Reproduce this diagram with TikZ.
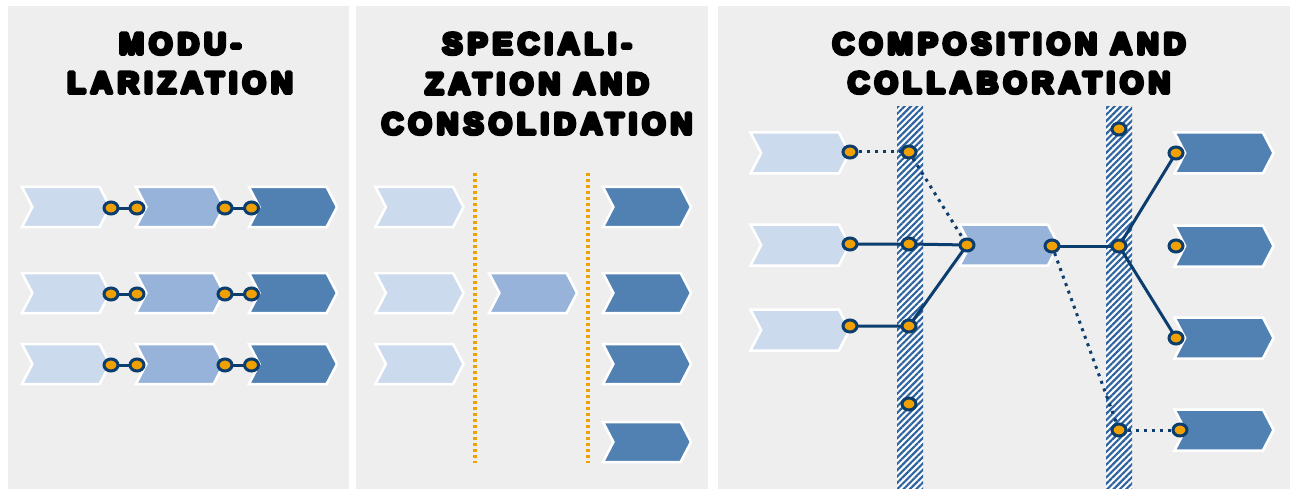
\documentclass[tikz,border=0pt]{standalone}
\usepackage{fontspec}
\usetikzlibrary{shapes.symbols,shapes.geometric,patterns.meta}
\newfontfamily\titlefont[LetterSpace=17,FakeBold=13]{Liberation Sans Bold}
\definecolor{bgpanel}{HTML}{EEEEEE}
\definecolor{chA}{HTML}{CBDAEC}
\definecolor{chB}{HTML}{97B3D9}
\definecolor{chC}{HTML}{5181B3}
\definecolor{orng}{HTML}{F0A000}
\definecolor{navy}{HTML}{0B3D6E}
\definecolor{stripe}{HTML}{2F64A0}
\pgfdeclarelayer{back}
\pgfdeclarelayer{conn}
\pgfsetlayers{back,conn,main}
\tikzset{
  chev/.style={signal, signal to=east, signal from=west, signal pointer angle=125,
    minimum height=40pt, minimum width=88pt, inner sep=0pt, draw=white, line width=2.5pt},
  chevwide/.style={chev, minimum width=99pt, minimum height=41pt},
  port/.style={ellipse, fill=orng, draw=navy, line width=3pt,
    minimum width=14pt, minimum height=12pt, inner sep=0pt},
  link/.style={navy, line width=3pt},
  dotlink/.style={navy, line width=3pt, dash pattern=on 3pt off 5pt},
  divider/.style={orng, line width=3.5pt, dash pattern=on 3pt off 3pt},
  title/.style={font=\titlefont\fontsize{30}{36}\selectfont, anchor=base, inner sep=0pt,
    line join=round},
  panel/.style={fill=bgpanel},
  strip/.style={pattern={Lines[angle=45,distance=4.5pt,line width=2.2pt]}, pattern color=stripe}
}
\begin{document}
\begin{tikzpicture}[x=1pt,y=-1pt]
\useasboundingbox (0,0) rectangle (1292,489);
\begin{pgfonlayer}{back}
\fill[white] (0,0) rectangle (1292,489);
\fill[panel] (8,6) rectangle (349,489);
\fill[panel] (356,6) rectangle (708,489);
\fill[panel] (718,6) rectangle (1290,489);
% strips
\fill[white] (897,107) rectangle (923,489);
\fill[strip] (897,107) rectangle (923,489);
\fill[white] (1106,107) rectangle (1132,489);
\fill[strip] (1106,107) rectangle (1132,489);
% panel 1 chevrons
\foreach \r/\y in {1/207,2/293,3/364}{
  \node[chev, fill=chA] (m\r a) at (66,\y) {};
  \node[chev, fill=chB] (m\r b) at (180,\y) {};
  \node[chev, fill=chC] (m\r c) at (293,\y) {};
}
% panel 2 chevrons
\foreach \r/\y in {1/207,2/293,3/364}{
  \node[chev, fill=chA] (s\r a) at (419.5,\y) {};
}
\node[chev, fill=chB] (smid) at (533,293) {};
\foreach \r/\y in {1/207,2/293,3/364,4/442}{
  \node[chev, fill=chC] (s\r c) at (647,\y) {};
}
% panel 3 chevrons
\foreach \r/\y in {1/153,2/245,3/330}{
  \node[chevwide, fill=chA] (cl\r) at (800,\y) {};
}
\node[chevwide, fill=chB] (cmid) at (1009,245) {};
\foreach \r/\y in {1/153,2/246,3/338,4/430}{
  \node[chevwide, fill=chC] (cr\r) at (1224,\y) {};
}
\end{pgfonlayer}
% titles
\node[title] (t1a) at (180,54) {MODU-};
\node[title] (t1b) at (180,93) {LARIZATION};
\node[title] (t2a) at (537,54) {SPECIALI-};
\node[title] (t2b) at (537,94) {ZATION AND};
\node[title] (t2c) at (537,134) {CONSOLIDATION};
\node[title] (t3a) at (1009,54) {COMPOSITION AND};
\node[title] (t3b) at (1009,93) {COLLABORATION};
% panel 1 ports
\foreach \r/\y in {1/208,2/294,3/365}{
  \node[port] (p\r a) at (111,\y) {};
  \node[port] (p\r b) at (137,\y) {};
  \node[port] (p\r c) at (225,\y) {};
  \node[port] (p\r d) at (251.5,\y) {};
}
% panel 2 dividers
\coordinate (d1t) at (475,173);
\coordinate (d1b) at (475,463);
\coordinate (d2t) at (588,173);
\coordinate (d2b) at (588,463);
% panel 3 ports
\node[port] (l1) at (850,152) {};
\node[port] (l2) at (850,244) {};
\node[port] (l3) at (850,326) {};
\node[port] (a1) at (909,152) {};
\node[port] (a2) at (909,244) {};
\node[port] (a3) at (909,326) {};
\node[port] (a4) at (909,404) {};
\node[port] (mL) at (967,245) {};
\node[port] (mR) at (1052,246) {};
\node[port] (b1) at (1119,129) {};
\node[port] (b2) at (1119,246) {};
\node[port] (b3) at (1119,430) {};
\node[port] (r1) at (1176,153) {};
\node[port] (r2) at (1176,246) {};
\node[port] (r3) at (1176,338) {};
\node[port] (r4) at (1180,430) {};
\begin{pgfonlayer}{conn}
\foreach \r in {1,2,3}{
  \draw[link] (p\r a.center) -- (p\r b.center);
  \draw[link] (p\r c.center) -- (p\r d.center);
}
\draw[divider] (d1t) -- (d1b);
\draw[divider] (d2t) -- (d2b);
\draw[dotlink] (l1) -- (a1);
\draw[dotlink] (a1) -- (mL);
\draw[link] (l2.center) -- (a2.center) -- (mL.center);
\draw[link] (l3.center) -- (a3.center) -- (mL.center);
\draw[link] (mR.center) -- (b2.center);
\draw[link] (b2.center) -- (r1.center);
\draw[link] (b2.center) -- (r3.center);
\draw[dotlink] (mR) -- (b3);
\draw[dotlink] (b3) -- (r4);
\end{pgfonlayer}
\end{tikzpicture}
\end{document}
